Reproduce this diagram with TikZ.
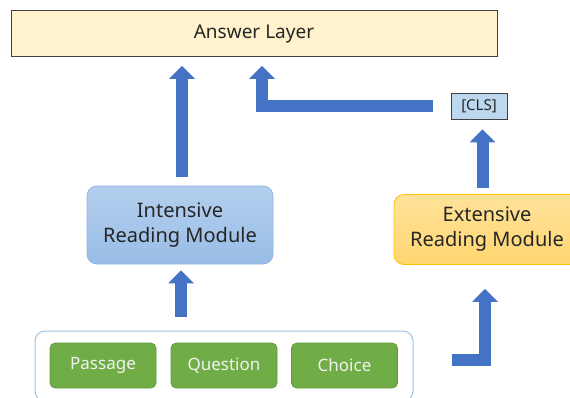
\documentclass[tikz,border=0pt]{standalone}
\usepackage{fontspec}
\setmainfont{Noto Sans}
\usepackage{xcolor}
\usepackage{tikz}
\usetikzlibrary{positioning, arrows.meta}
\definecolor{ansfill}{HTML}{FFF2CC}
\definecolor{clsfill}{HTML}{BDD7EE}
\definecolor{edge}{HTML}{404040}
\definecolor{irmtop}{HTML}{B4CFEE}
\definecolor{irmbot}{HTML}{99BDE6}
\definecolor{irmline}{HTML}{8EB4E3}
\definecolor{ermtop}{HTML}{FFE29A}
\definecolor{ermbot}{HTML}{FFD670}
\definecolor{ermline}{HTML}{FFC000}
\definecolor{leaf}{HTML}{70AD47}
\definecolor{leafline}{HTML}{5E9A3A}
\definecolor{inpline}{HTML}{9DC3E6}
\definecolor{flow}{HTML}{4472C4}
\definecolor{txt}{HTML}{262626}
\tikzset{
  answer/.style   = {rectangle, draw=edge, line width=0.8pt, fill=ansfill,
                     minimum width=486pt, minimum height=46pt, inner sep=0pt,
                     text=txt, font=\fontsize{19}{22}\selectfont},
  tag/.style      = {rectangle, draw=edge, line width=0.8pt, fill=clsfill,
                     minimum width=56pt, minimum height=26pt, inner sep=0pt,
                     text=txt, font=\fontsize{15}{17}\selectfont},
  intens/.style   = {rectangle, rounded corners=10pt, draw=irmline, line width=0.8pt,
                     top color=irmtop, bottom color=irmbot,
                     minimum width=186pt, minimum height=78pt, inner sep=0pt,
                     align=center, text=txt, font=\fontsize{20}{25}\selectfont},
  extens/.style   = {rectangle, rounded corners=10pt, draw=ermline, line width=0.8pt,
                     top color=ermtop, bottom color=ermbot,
                     minimum width=186pt, minimum height=70pt, inner sep=0pt,
                     align=center, text=txt, font=\fontsize{20}{25}\selectfont},
  holder/.style   = {rectangle, rounded corners=10pt, draw=inpline, line width=1pt,
                     fill=white, minimum width=378pt, minimum height=70pt, inner sep=0pt},
  piece/.style    = {rectangle, rounded corners=5pt, draw=leafline, line width=0.6pt,
                     fill=leaf, minimum width=106pt, minimum height=45pt, inner sep=0pt,
                     text=white!95!black, font=\fontsize{17}{20}\selectfont},
  bar/.style      = {-{Triangle[length=13pt,width=25pt]}, line width=12pt,
                     draw=flow, line join=miter},
}
\begin{document}
\begin{tikzpicture}[x=1pt, y=-1pt]

  \useasboundingbox (0,0) rectangle (570,398);
  \clip (0,0) rectangle (570,398);

  \node[answer] (ans) at (254,33.5) {Answer Layer};
  \node[tag] (cls) at (479,106) {[CLS]};

  \node[intens] (irm) at (180,225) {Intensive\\Reading Module};
  \node[extens] (erm) at (487,229.5) {Extensive\\Reading Module};

  \node[holder] (inp) at (224,366) {};
  \node[piece] (psg) at (103,365.5) {Passage};
  \node[piece] (qst) at (224,365.5) {Question};
  \node[piece] (chc) at (344.5,365.5) {Choice};

  \draw[bar, shorten <=9pt, shorten >=9pt]
       ([xshift=2pt]irm.north) -- ([xshift=2pt]irm.north |- ans.south);
  \draw[bar, shorten <=14pt, shorten >=6pt]
       ([xshift=1pt]irm.south |- inp.north) -- ([xshift=1pt]irm.south);
  \draw[bar, shorten <=6.5pt, shorten >=10pt]
       ([xshift=3.5pt]cls.south |- erm.north) -- ([xshift=3.5pt]cls.south);
  \draw[bar, shorten <=18pt, shorten >=9pt]
       (cls.west) -| ([xshift=8pt]ans.south);
  \draw[bar, shorten <=38pt, shorten >=24pt]
       ([yshift=6pt]inp.east) -| ([xshift=-2pt]erm.south);

\end{tikzpicture}
\end{document}
